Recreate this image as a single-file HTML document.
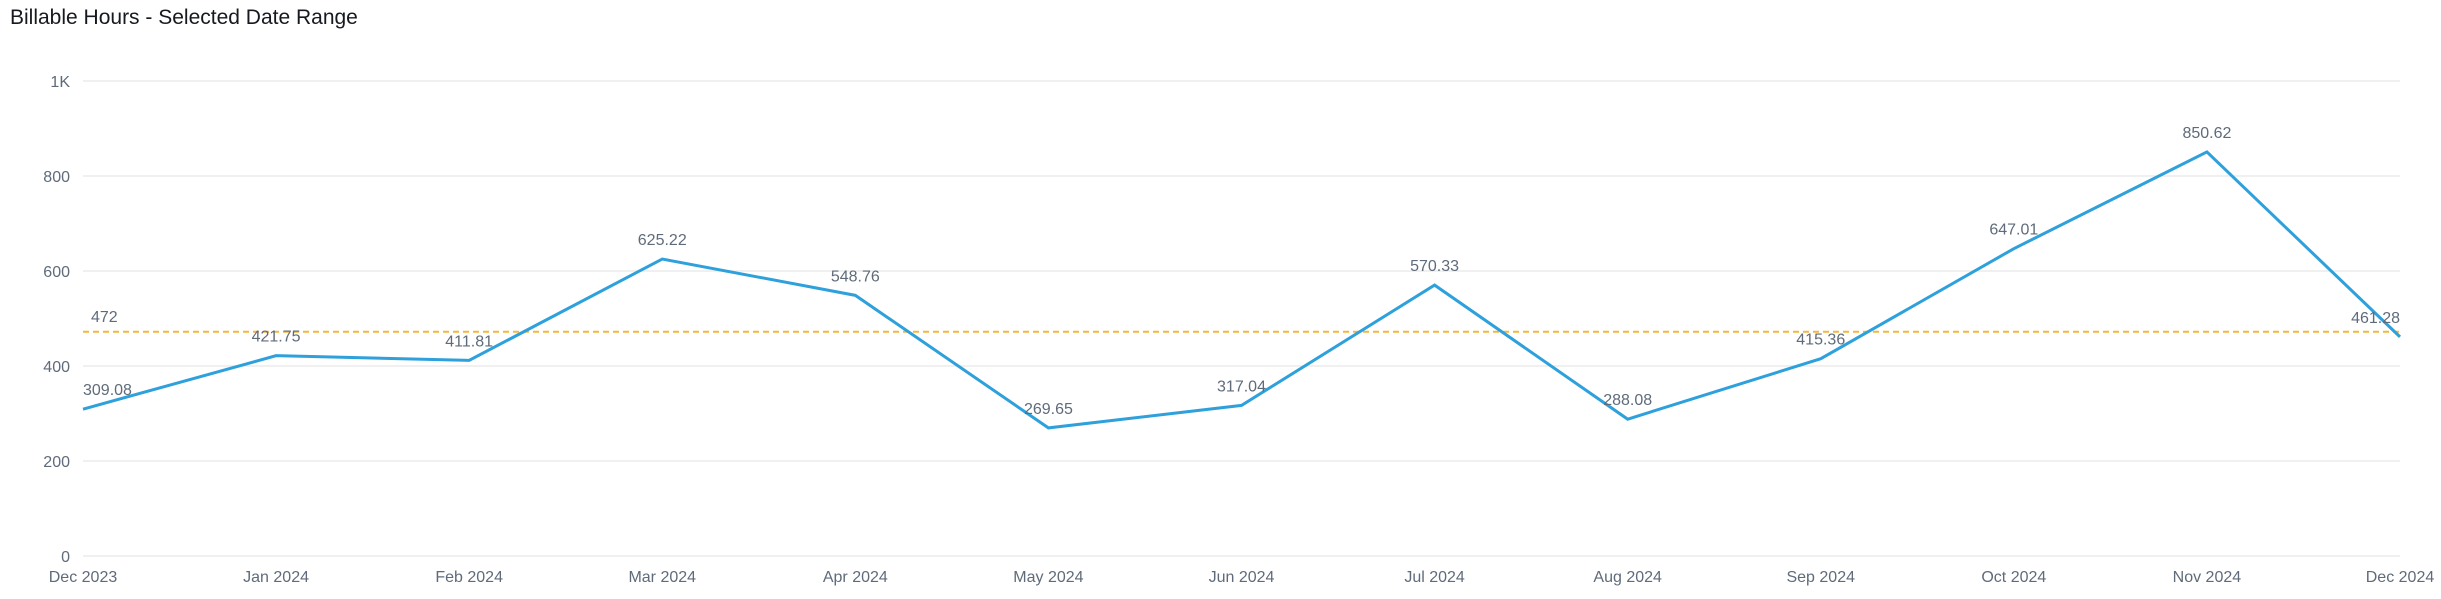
<!DOCTYPE html>
<html><head><meta charset="utf-8"><style>
html,body{margin:0;padding:0;background:#fff;}
svg{display:block;font-family:"Liberation Sans",sans-serif;}
</style></head><body>
<svg id="chart" width="2441" height="599" viewBox="0 0 2441 599" xmlns="http://www.w3.org/2000/svg">
<text x="10" y="24" font-size="21" fill="#16191f">Billable Hours - Selected Date Range</text>
<g id="grid"></g><g id="avg"></g><g id="series"></g><g id="labels"></g><g id="xaxis"></g>
</svg>
<script>
const categories=["Dec 2023","Jan 2024","Feb 2024","Mar 2024","Apr 2024","May 2024","Jun 2024","Jul 2024","Aug 2024","Sep 2024","Oct 2024","Nov 2024","Dec 2024"];
const hours=[309.08,421.75,411.81,625.22,548.76,269.65,317.04,570.33,288.08,415.36,647.01,850.62,461.28];
const avgValue=[472];
const yTicks=[0,200,400,600,800,1000];
const yTickLabels=["0","200","400","600","800","1K"];
const NS="http://www.w3.org/2000/svg";
const x0=83,x1=2400,yBase=556,yTop=81;
function xs(i){return x0+(x1-x0)*i/(categories.length-1);}
function ys(v){return yBase-(yBase-yTop)*v/1000;}
function mk(tag,attrs,parent,txt){const e=document.createElementNS(NS,tag);for(const k in attrs)e.setAttribute(k,attrs[k]);if(txt!=null)e.textContent=txt;parent.appendChild(e);return e;}
const grid=document.getElementById('grid');
yTicks.forEach((t,i)=>{
 const l=mk('line',{x1:x0,x2:x1,y1:ys(t),y2:ys(t),stroke:'#ebebeb','stroke-width':1.5},grid);
 
 
 const tx=mk('text',{x:70,y:ys(t)+6,'text-anchor':'end','font-size':16,fill:'#5f6b7a'},grid,yTickLabels[i]);
 
 
});
const xa=document.getElementById('xaxis');
categories.forEach((c,i)=>{
 const tx=mk('text',{x:xs(i),y:582,'text-anchor':'middle','font-size':16,fill:'#5f6b7a'},xa,c);
 
 
});
const av=document.getElementById('avg');
const al=mk('line',{x1:x0,x2:x1,y1:ys(avgValue[0]),y2:ys(avgValue[0]),stroke:'#f5b73b','stroke-width':2,'stroke-dasharray':'6 4'},av);


const at=mk('text',{x:91,y:ys(avgValue[0])-10,'font-size':16,fill:'#5f6b7a'},av,String(avgValue[0]));


const se=document.getElementById('series');
const pl=mk('polyline',{points:hours.map((v,i)=>xs(i)+','+ys(v)).join(' '),fill:'none',stroke:'#2ea0db','stroke-width':3,'stroke-linejoin':'miter'},se);


const lb=document.getElementById('labels');
hours.forEach((v,i)=>{
 let x=xs(i),anchor='middle';
 if(i===0){anchor='start';x=x0;}
 if(i===categories.length-1){anchor='end';x=x1;}
 const tx=mk('text',{x:x,y:ys(v)-14,'text-anchor':anchor,'font-size':16,fill:'#5f6b7a'},lb,v.toFixed(2));
 
 
});
</script>
</body></html>
